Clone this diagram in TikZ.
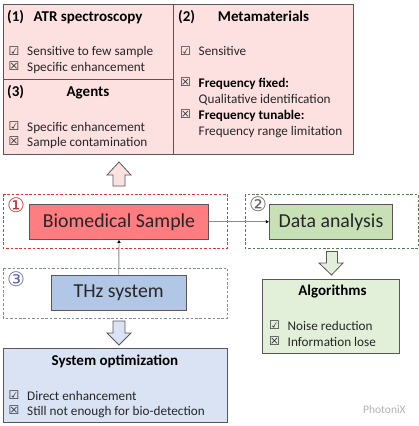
\documentclass[tikz,border=0pt]{standalone}
\usepackage{fontspec}
\setmainfont{Carlito}
\newfontfamily\symfont{DejaVu Sans}
\usetikzlibrary{arrows.meta}
\definecolor{pinkfill}{HTML}{FDE1E1}
\definecolor{redfill}{HTML}{FF7C80}
\definecolor{bluefill}{HTML}{B2C6E6}
\definecolor{lightblue}{HTML}{DAE3F3}
\definecolor{greenfill}{HTML}{C8E0B6}
\definecolor{lightgreen}{HTML}{E2F0D9}
\definecolor{edge}{HTML}{5A5558}
\definecolor{textc}{HTML}{262626}
\newcommand{\lowered}[1]{\raisebox{-2.5pt}{#1}}
\tikzset{
  panel/.style={draw=edge,line width=0.9pt,inner sep=0pt},
  mainbox/.style={draw=edge,line width=0.9pt,inner sep=0pt,font=\fontsize{19.8}{22}\selectfont,text=black!85},
  dashbox/.style={line width=0.9pt,dash pattern=on 2.6pt off 1.8pt},
  head/.style={anchor=mid,font=\fontsize{15}{17}\selectfont\bfseries,text=black,inner sep=0pt,yshift=-2.2pt},
  item/.style={anchor=mid west,font=\fontsize{13.2}{15}\selectfont,text=textc,inner sep=0pt,yshift=-2.2pt},
  bolditem/.style={item,font=\fontsize{13.2}{15}\selectfont\bfseries,text=black},
  tick/.style={anchor=mid,font=\fontsize{12}{14}\symfont,text=textc,inner sep=0pt,yshift=-1.8pt},
  num/.style={anchor=mid,font=\fontsize{20}{22}\symfont,inner sep=0pt,yshift=-3.5pt},
  blockarrow/.style={draw=edge,line width=0.8pt,line join=miter},
  link/.style={draw=black!45,line width=0.9pt,-{Latex[black,length=3.2pt,width=3.6pt]}}
}
\begin{document}
\begin{tikzpicture}[x=1pt,y=-1pt]
\useasboundingbox (0,0) rectangle (419,426);
% top panel
\fill[pinkfill] (3,4) rectangle (353.5,154);
\draw[edge,line width=0.9pt] (173.5,4) -- (173.5,154) (3,79.5) -- (173.5,79.5);
\draw[edge,line width=0.9pt] (3,4) rectangle (353.5,154);
\node[head,anchor=mid west] (n1) at (7,17) {(1)};
\node[head,anchor=mid west] (t1) at (33.5,17) {ATR spectroscopy};
\node[tick] (c11) at (14,51) {☑};
\node[item] (i11) at (27,51) {Sensitive to few sample};
\node[tick] (c12) at (14,66.5) {☒};
\node[item] (i12) at (27,67) {Specific enhancement};
\node[head,anchor=mid west] (n3) at (7,92) {(3)};
\node[head] (t3) at (88,92) {Agents};
\node[tick] (c31) at (14,126) {☑};
\node[item] (i31) at (27,126.5) {Specific enhancement};
\node[tick] (c32) at (14,141.5) {☒};
\node[item] (i32) at (27,142) {Sample contamination};
\node[head,anchor=mid west] (n2) at (178,16.5) {(2)};
\node[head] (t2) at (263.5,16.5) {Metamaterials};
\node[tick] (c21) at (185.5,51) {☑};
\node[item] (i21) at (198.5,51) {Sensitive};
\node[tick] (c22) at (185.5,82) {☒};
\node[bolditem] (i22) at (198.5,82.5) {Frequency fixed:};
\node[item] (i23) at (198.5,98.5) {Qualitative identification};
\node[tick] (c24) at (185.5,114) {☒};
\node[bolditem] (i24) at (198.5,114.5) {Frequency tunable:};
\node[item] (i25) at (198.5,130.5) {Frequency range limitation};
% block arrows
\draw[blockarrow,fill=pinkfill] (119,162) -- (131,175) -- (125,175) -- (125,186) -- (113,186) -- (113,175) -- (107,175) -- cycle;
\draw[blockarrow,fill=lightgreen] (331.5,275) -- (343,263) -- (337.5,263) -- (337.5,251.5) -- (326.5,251.5) -- (326.5,263) -- (319,263) -- cycle;
\draw[blockarrow,fill=lightblue] (119,345) -- (131,333) -- (125,333) -- (125,321) -- (113,321) -- (113,333) -- (107,333) -- cycle;
% dashed groups
\draw[dashbox,draw=red!85!black!80] (3,194) rectangle (227.5,248);
\draw[dashbox,draw=bluefill!60!black!85] (3,268) rectangle (227.5,318);
\draw[dashbox,draw=green!20!black!65] (245,194) rectangle (418,248);
\node[num,text=red!70!black!80] (m1) at (16,207) {①};
\node[num,text=blue!45!black!60] (m3) at (16,281) {③};
\node[num,text=black!60] (m2) at (258,206) {②};
% main boxes
\node[mainbox,fill=redfill,minimum width=179pt,minimum height=35pt] (bio) at (119,221.75) {\lowered{Biomedical Sample}};
\node[mainbox,fill=bluefill,minimum width=135.5pt,minimum height=35pt] (thz) at (118.75,292.5) {\lowered{THz system}};
\node[mainbox,fill=greenfill,minimum width=123pt,minimum height=35pt] (data) at (331,221.75) {\lowered{Data analysis}};
\draw[link] (thz.north) -- (bio.south);
\draw[link] (bio.east) -- (data.west);
% algorithms
\node[panel,fill=lightgreen,minimum width=137pt,minimum height=74pt] (algo) at (331,316) {};
\node[head] (t4) at (332.5,291) {Algorithms};
\node[tick] (c41) at (274.5,325.5) {☑};
\node[item] (i41) at (287.5,326) {Noise reduction};
\node[tick] (c42) at (274.5,341.5) {☒};
\node[item] (i42) at (287.5,342) {Information lose};
% system
\node[panel,fill=lightblue,minimum width=224.5pt,minimum height=74pt] (sys) at (115.25,385) {};
\node[head] (t5) at (115,361) {System optimization};
\node[tick] (c51) at (14,395) {☑};
\node[item] (i51) at (27,395.5) {Direct enhancement};
\node[tick] (c52) at (14,410.5) {☒};
\node[item] (i52) at (27,411) {Still not enough for bio-detection};
% watermark
\node[anchor=mid west,inner sep=0pt,font=\fontsize{11.5}{13}\selectfont,text=black!30] (wm) at (363,411) {PhotoniX};
\end{tikzpicture}
\end{document}
